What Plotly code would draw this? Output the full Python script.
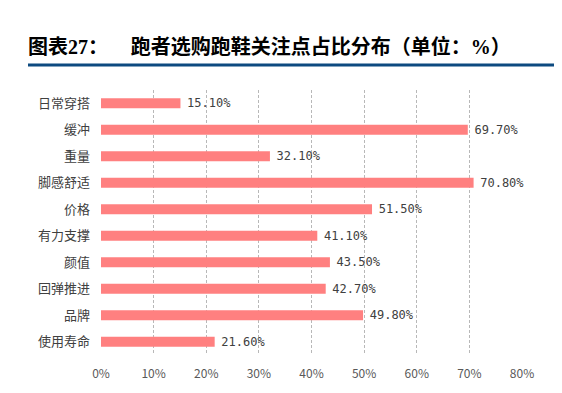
import plotly.graph_objects as go

categories = ["日常穿搭", "缓冲", "重量", "脚感舒适", "价格", "有力支撑", "颜值", "回弹推进", "品牌", "使用寿命"]
values = [15.1, 69.7, 32.1, 70.8, 51.5, 41.1, 43.5, 42.7, 49.8, 21.6]
x_ticks = [0, 10, 20, 30, 40, 50, 60, 70, 80]
x_tick_labels = [f"{v}%" for v in x_ticks]

# page body has an 8px margin; figure coordinates are offset accordingly
W, H = 554, 385
L, R, T, B = 93, 40, 82, 38
pw = W - L - R
ph = H - T - B

fig = go.Figure(go.Bar(
    x=values, y=categories, orientation="h",
    marker=dict(color="#ff8080", line=dict(width=0)),
    width=0.38,
    text=[f"<span style=\"font-size:6px\"> </span>{v:.2f}%" for v in values],
    textposition="outside",
    constraintext="none",
    textfont=dict(family="DejaVu Sans Mono", size=12, color="#404040"),
    cliponaxis=False,
))

serif = "font-family:Liberation Serif"
title_text = (f"<b>图表<span style=\"{serif}\">27</span>：     跑者选购跑鞋关注点占比分布（单位："
              f"<span style=\"{serif}\">%</span>）</b>")

fig.update_layout(
    width=W, height=H,
    margin=dict(l=L, r=R, t=T, b=B, pad=0),
    paper_bgcolor="white", plot_bgcolor="white",
    showlegend=False,
    font=dict(family="Noto Sans CJK SC", color="#404040"),
    title=dict(
        text=title_text,
        x=20 / W, xanchor="left", xref="container",
        y=1 - 39 / H, yanchor="middle", yref="container",
        font=dict(family="Noto Sans CJK SC", size=20, color="#000000"),
    ),
    xaxis=dict(
        range=[0, 80], tickvals=x_ticks, ticktext=x_tick_labels,
        showgrid=True, gridcolor="#b8b8b8", griddash="3px,2px", gridwidth=1,
        zeroline=False, showline=False,
        tickfont=dict(size=12, color="#595959"),
        ticks="", ticklabelstandoff=10,
    ),
    yaxis=dict(
        autorange="reversed", showgrid=False, zeroline=False, showline=False,
        tickfont=dict(size=13, color="#404040"), ticks="", ticklabelstandoff=10,
    ),
    bargap=0.6,
)

fig.add_shape(
    type="line", xref="paper", yref="paper",
    x0=(20 - L) / pw, x1=(W - L) / pw,
    y0=(H - B - 57) / ph, y1=(H - B - 57) / ph,
    line=dict(color="#0d4a80", width=3),
)

fig.write_html("out.html")
